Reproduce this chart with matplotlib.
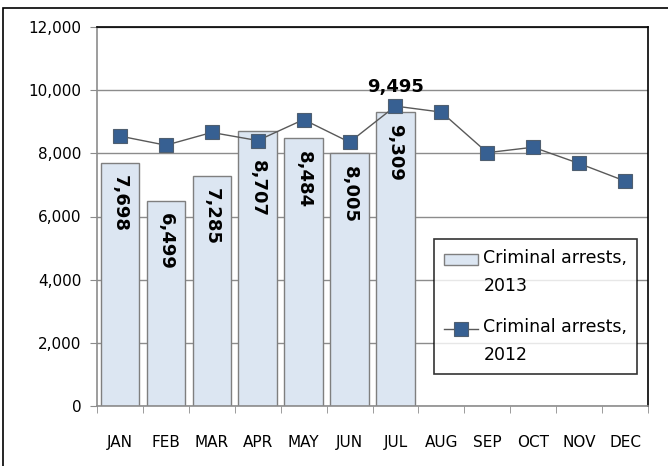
import numpy as np
import matplotlib
matplotlib.use("Agg")
import matplotlib.pyplot as plt
from matplotlib.patches import Rectangle
from matplotlib.ticker import FuncFormatter
from matplotlib.legend_handler import HandlerPatch, HandlerLine2D

plt.rcParams['font.family'] = ['Liberation Sans Narrow', 'DejaVu Sans']

months = ["JAN", "FEB", "MAR", "APR", "MAY", "JUN", "JUL", "AUG", "SEP", "OCT", "NOV", "DEC"]
arrests_2013 = [7698, 6499, 7285, 8707, 8484, 8005, 9309]
arrests_2012 = [8546, 8257, 8661, 8405, 9069, 8353, 9495, 9305, 8021, 8193, 7679, 7123]

# legend handles sit on the first line of two-line labels
LIFT = 9.5

class UpPatch(HandlerPatch):
    def create_artists(self, legend, orig_handle, xdescent, ydescent, width, height, fontsize, trans):
        return super().create_artists(legend, orig_handle, xdescent, ydescent - LIFT,
                                      width, height, fontsize, trans)

class UpLine(HandlerLine2D):
    def create_artists(self, legend, orig_handle, xdescent, ydescent, width, height, fontsize, trans):
        return super().create_artists(legend, orig_handle, xdescent, ydescent - 2 * LIFT,
                                      width, height, fontsize, trans)

fig = plt.figure(figsize=(6.68, 4.66), dpi=100)
ax = fig.add_axes([97/668, 1-406/466, (648-97)/668, (406-27)/466])

# outer chart border (right/bottom fall outside the image)
fig.patches.append(Rectangle((3/668, -0.05), 1.2, 1-8/466+0.05, transform=fig.transFigure,
                             fill=False, edgecolor='black', linewidth=1.2))

x = np.arange(len(months))
bars = ax.bar(x[:len(arrests_2013)], arrests_2013, width=0.84, color='#DCE6F2', edgecolor='#7F7F7F',
              linewidth=1, zorder=2, label="Criminal arrests,\n2013")
line, = ax.plot(x, arrests_2012, color='#595959', linewidth=1, marker='s', markersize=9.5,
                markerfacecolor='#376092', markeredgecolor='#4F5F70', markeredgewidth=0.8,
                zorder=3, label="Criminal arrests,\n2012")

# bar value labels, rotated, inside the top of each bar
nudge = {3: -12}
for i, v in enumerate(arrests_2013):
    ax.annotate(f"{v:,}", (i, v), xytext=(0, -9 + nudge.get(i, 0)), textcoords='offset points',
                rotation=-90, ha='center', va='top', fontsize=13, fontweight='bold', zorder=4)

# peak label for 2012
peak = int(np.argmax(arrests_2012))
ax.annotate(f"{arrests_2012[peak]:,}", (peak, arrests_2012[peak]), xytext=(0, 7),
            textcoords='offset points', ha='center', va='bottom', fontsize=13, fontweight='bold')

ax.set_xlim(-0.5, 11.5)
ax.set_ylim(0, 12000)
ax.set_yticks(np.arange(0, 12001, 2000))
ax.yaxis.set_major_formatter(FuncFormatter(lambda v, p: f"{int(v):,}"))
ax.grid(axis='y', color='#8C8C8C', linewidth=1, zorder=0)
ax.set_axisbelow(True)

ax.set_xticks(x)
ax.set_xticklabels(months)
ax.set_xticks(np.arange(-0.5, 12, 1), minor=True)
ax.tick_params(axis='x', which='major', length=0, pad=21, labelsize=11)
ax.tick_params(axis='x', which='minor', length=5, color='#8C8C8C', direction='out')
ax.tick_params(axis='y', length=5, color='#8C8C8C', labelsize=11, pad=6)

for s in ['top', 'right']:
    ax.spines[s].set_color('black')
    ax.spines[s].set_linewidth(1.2)
for s in ['left', 'bottom']:
    ax.spines[s].set_color('#8C8C8C')
    ax.spines[s].set_linewidth(1.2)

bar_handle = bars.patches[0]
leg = ax.legend([bar_handle, line], [bars.get_label(), line.get_label()], loc='upper left',
                bbox_to_anchor=((434-97)/551, (406-239)/379), borderaxespad=0, fontsize=12.5,
                frameon=True, fancybox=False, edgecolor='black', handlelength=2.0,
                handleheight=0.6, handletextpad=0.3, labelspacing=1.3, borderpad=0.55,
                handler_map={bar_handle: UpPatch(), line: UpLine()})
for t in leg.get_texts():
    t.set_linespacing(1.75)
leg.get_frame().set_linewidth(1.2)

fig.savefig("out.png", dpi=100)
